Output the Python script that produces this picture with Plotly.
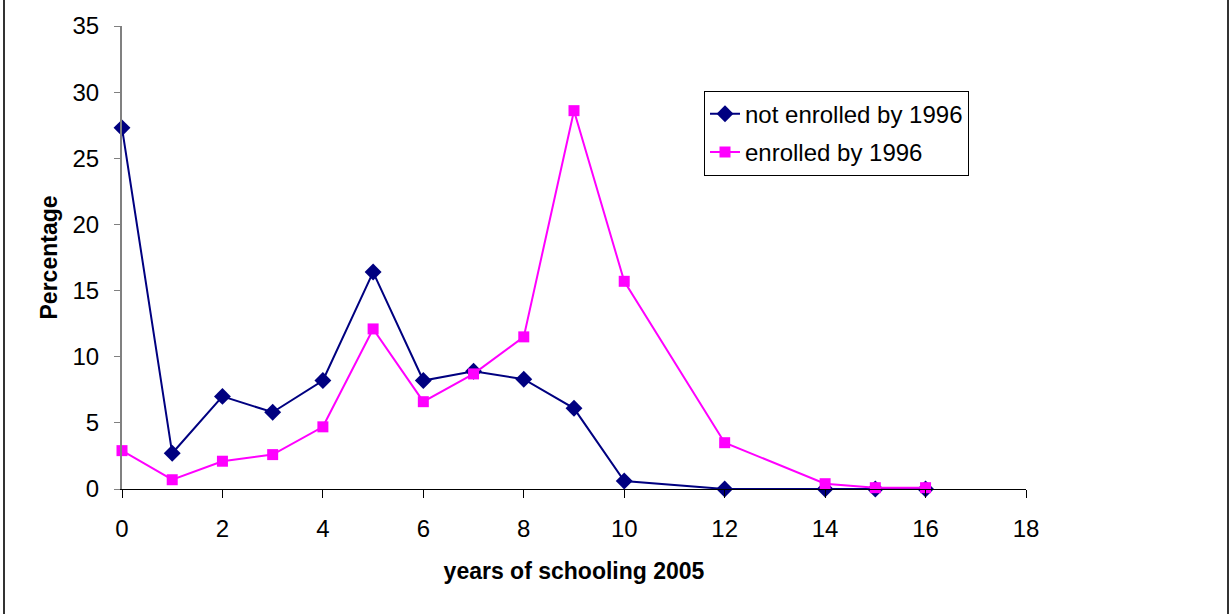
import plotly.graph_objects as go

years = [0, 1, 2, 3, 4, 5, 6, 7, 8, 9, 10, 12, 14, 15, 16]
not_enrolled = [27.3, 2.7, 7.0, 5.8, 8.2, 16.4, 8.2, 8.9, 8.3, 6.1, 0.6, 0.0, 0.0, 0.0, 0.0]
enrolled = [2.9, 0.7, 2.1, 2.6, 4.7, 12.1, 6.6, 8.7, 11.5, 28.6, 15.7, 3.5, 0.4, 0.1, 0.1]

x_ticks = [0, 2, 4, 6, 8, 10, 12, 14, 16, 18]
y_ticks = [0, 5, 10, 15, 20, 25, 30, 35]

FONT = "Liberation Sans, Arial, sans-serif"

fig = go.Figure()
fig.add_trace(go.Scatter(
    x=years, y=not_enrolled, mode="lines+markers", name="not enrolled by 1996",
    legendgroup="a",
    line=dict(color="#000080", width=2),
    marker=dict(symbol="diamond", size=13, color="#000080"),
    cliponaxis=False,
))
fig.add_trace(go.Scatter(
    x=years, y=enrolled, mode="lines+markers", name="enrolled by 1996",
    legendgroup="b",
    line=dict(color="#FF00FF", width=2),
    marker=dict(symbol="square", size=11, color="#FF00FF"),
    cliponaxis=False,
))

fig.update_layout(
    width=1231, height=614,
    margin=dict(l=122, r=205, t=23, b=125),
    paper_bgcolor="white", plot_bgcolor="white",
    font=dict(family=FONT, size=24, color="black"),
    showlegend=True,
    legend=dict(
        x=(704 - 122) / 904, y=(489 - 88) / 466, xanchor="left", yanchor="top",
        bordercolor="black", borderwidth=1, bgcolor="white",
        font=dict(size=24), tracegroupgap=4,
    ),
    xaxis=dict(
        range=[0, 18], tickvals=x_ticks, ticktext=[str(v) for v in x_ticks],
        showgrid=False, zeroline=False,
        showline=True, linecolor="black", linewidth=1,
        ticks="outside", ticklen=8, tickcolor="black",
        ticklabelstandoff=10,
        title=dict(text="<b>years of schooling 2005</b>", font=dict(size=23), standoff=22),
    ),
    yaxis=dict(
        range=[0, 35], tickvals=y_ticks, ticktext=[str(v) for v in y_ticks],
        showgrid=False, zeroline=False,
        showline=True, linecolor="#808080", linewidth=2,
        ticks="outside", ticklen=6, tickcolor="#808080",
        ticklabelstandoff=10,
        title=dict(text="<b>Percentage</b>", font=dict(size=23), standoff=8),
    ),
    shapes=[
        dict(type="line", xref="paper", yref="paper",
             x0=(4 - 122) / 904, x1=(4 - 122) / 904, y0=-0.3, y1=1.1,
             line=dict(color="#333333", width=2)),
        dict(type="line", xref="paper", yref="paper",
             x0=(1228 - 122) / 904, x1=(1228 - 122) / 904, y0=-0.3, y1=1.1,
             line=dict(color="#333333", width=2)),
    ],
)

fig.write_html("out.html", config={"displayModeBar": False},
               post_script="document.body.style.margin='0';")
